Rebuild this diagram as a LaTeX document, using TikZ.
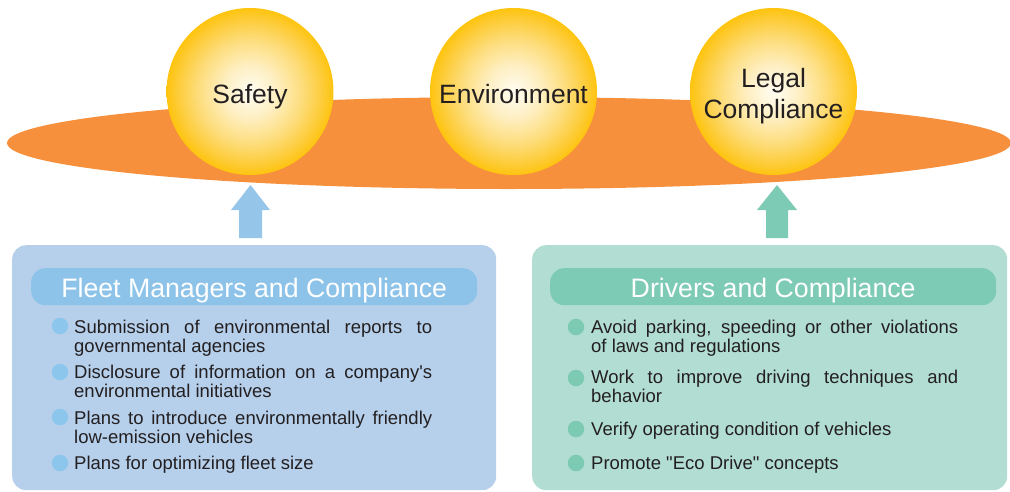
\documentclass[tikz,border=0pt]{standalone}
\usepackage{fontspec}
\setmainfont{Liberation Sans}
\usetikzlibrary{shapes.geometric,calc}
\definecolor{bandorange}{HTML}{F6903C}
\definecolor{sunA}{HTML}{FFFDF3}
\definecolor{sunB}{HTML}{FEEFC2}
\definecolor{sunC}{HTML}{FDDC78}
\definecolor{sunD}{HTML}{FDCB35}
\definecolor{sunE}{HTML}{FEC40E}
\definecolor{fleetbg}{HTML}{B6D0EC}
\definecolor{fleethead}{HTML}{8DC3E9}
\definecolor{fleetdot}{HTML}{8DC6EC}
\definecolor{fleetarrow}{HTML}{95C6EA}
\definecolor{drivbg}{HTML}{B2DDD2}
\definecolor{drivhead}{HTML}{7DCBB4}
\definecolor{drivdot}{HTML}{7DCAB3}
\definecolor{txtgray}{HTML}{231F20}
\pgfdeclareradialshading{sunball}{\pgfpointorigin}{color(0bp)=(sunA); color(8bp)=(sunB); color(16bp)=(sunC); color(22bp)=(sunD); color(25bp)=(sunE); color(50bp)=(sunE)}
\newcommand{\itemtxt}[2]{\parbox[t]{#1}{\tolerance=10000\hbadness=10000 #2}}
\tikzset{
  sun/.style={circle, minimum size=167pt, inner sep=0pt, shading=sunball},
  bigtxt/.style={inner sep=0pt, text=txtgray, font=\fontsize{26.5}{31}\selectfont},
  headtxt/.style={inner sep=0pt, text=white, font=\fontsize{26.7}{31}\selectfont, anchor=base},
  panel/.style={rectangle, rounded corners=14pt, inner sep=0pt, anchor=north west},
  pill/.style={rectangle, rounded corners=14pt, inner sep=0pt, minimum height=37pt, anchor=north west},
  dot/.style={circle, minimum size=16.5pt, inner sep=0pt},
  itemnode/.style={anchor=base west, inner sep=0pt, text=txtgray, font=\fontsize{18.5}{19}\selectfont},
}
\begin{document}
\begin{tikzpicture}[x=1pt,y=-1pt]
\useasboundingbox (0,0) rectangle (1010,491);
\clip (0,0) rectangle (1010,491);
% band
\node[ellipse, fill=bandorange, minimum width=1004pt, minimum height=92pt, inner sep=0pt] (band) at (509,143) {};
% circles
\node[sun] (safety) at (250,91.5) {};
\node[sun] (env) at (513.5,91.5) {};
\node[sun] (legal) at (773.5,91.5) {};
\node[bigtxt, anchor=base] (safetytxt) at ($(safety.center)+(0,11.5)$) {Safety};
\node[bigtxt, anchor=base] (envtxt) at ($(env.center)+(0,11.5)$) {Environment};
\node[bigtxt, anchor=base] (legaltxt1) at ($(legal.center)+(0,-4.5)$) {Legal};
\node[bigtxt, anchor=base] (legaltxt2) at ($(legal.center)+(0,26.5)$) {Compliance};
% panels
\node[panel, fill=fleetbg, minimum width=484pt, minimum height=245pt] (fleet) at (12,245) {};
\node[panel, fill=drivbg, minimum width=475pt, minimum height=245pt] (drivers) at (532,245) {};
\node[pill, fill=fleethead, minimum width=446pt] (fleethd) at (31,268) {};
\node[pill, fill=drivhead, minimum width=446pt] (drivhd) at (550,268) {};
\node[headtxt] (fleetttl) at ($(fleethd.center)+(0,10.5)$) {Fleet Managers and Compliance};
\node[headtxt] (drivttl) at ($(drivhd.center)+(0,10.5)$) {Drivers and Compliance};
% arrows
\coordinate (fa) at (250.5,238);
\coordinate (da) at (777,238);
\fill[fleetarrow] (fa) ++(-11.5,0) -- ++(0,-28) -- ++(-8,0) -- ++(19.5,-25) -- ++(19.5,25) -- ++(-8,0) -- ++(0,28) -- cycle;
\fill[drivhead] (da) ++(-11,0) -- ++(0,-28) -- ++(-9,0) -- ++(20,-25) -- ++(20,25) -- ++(-9,0) -- ++(0,28) -- cycle;
% fleet items
\node[dot, fill=fleetdot] (fd1) at (60,326) {};
\node[dot, fill=fleetdot] (fd2) at (60,372) {};
\node[dot, fill=fleetdot] (fd3) at (60,417) {};
\node[dot, fill=fleetdot] (fd4) at (60,463) {};
\node[itemnode] (fi1) at (74,333) {\itemtxt{358pt}{Submission of environmental reports to\linebreak governmental agencies}};
\node[itemnode] (fi2) at (74,378) {\itemtxt{358pt}{Disclosure of information on a company\textquotesingle s\linebreak environmental initiatives}};
\node[itemnode] (fi3) at (74,424) {\itemtxt{358pt}{Plans to introduce environmentally friendly\linebreak low-emission vehicles}};
\node[itemnode] (fi4) at (74,469) {\itemtxt{358pt}{Plans for optimizing fleet size}};
% driver items
\node[dot, fill=drivdot] (dd1) at (576,327) {};
\node[dot, fill=drivdot] (dd2) at (576,378) {};
\node[dot, fill=drivdot] (dd3) at (576,429) {};
\node[dot, fill=drivdot] (dd4) at (576,463) {};
\node[itemnode] (di1) at (591,333) {\itemtxt{367pt}{Avoid parking, speeding or other violations\linebreak of laws and regulations}};
\node[itemnode] (di2) at (591,383) {\itemtxt{367pt}{Work to improve driving techniques and\linebreak behavior}};
\node[itemnode] (di3) at (591,435) {\itemtxt{367pt}{Verify operating condition of vehicles}};
\node[itemnode] (di4) at (591,469) {\itemtxt{367pt}{Promote \textquotedbl Eco Drive\textquotedbl{} concepts}};
\end{tikzpicture}
\end{document}
